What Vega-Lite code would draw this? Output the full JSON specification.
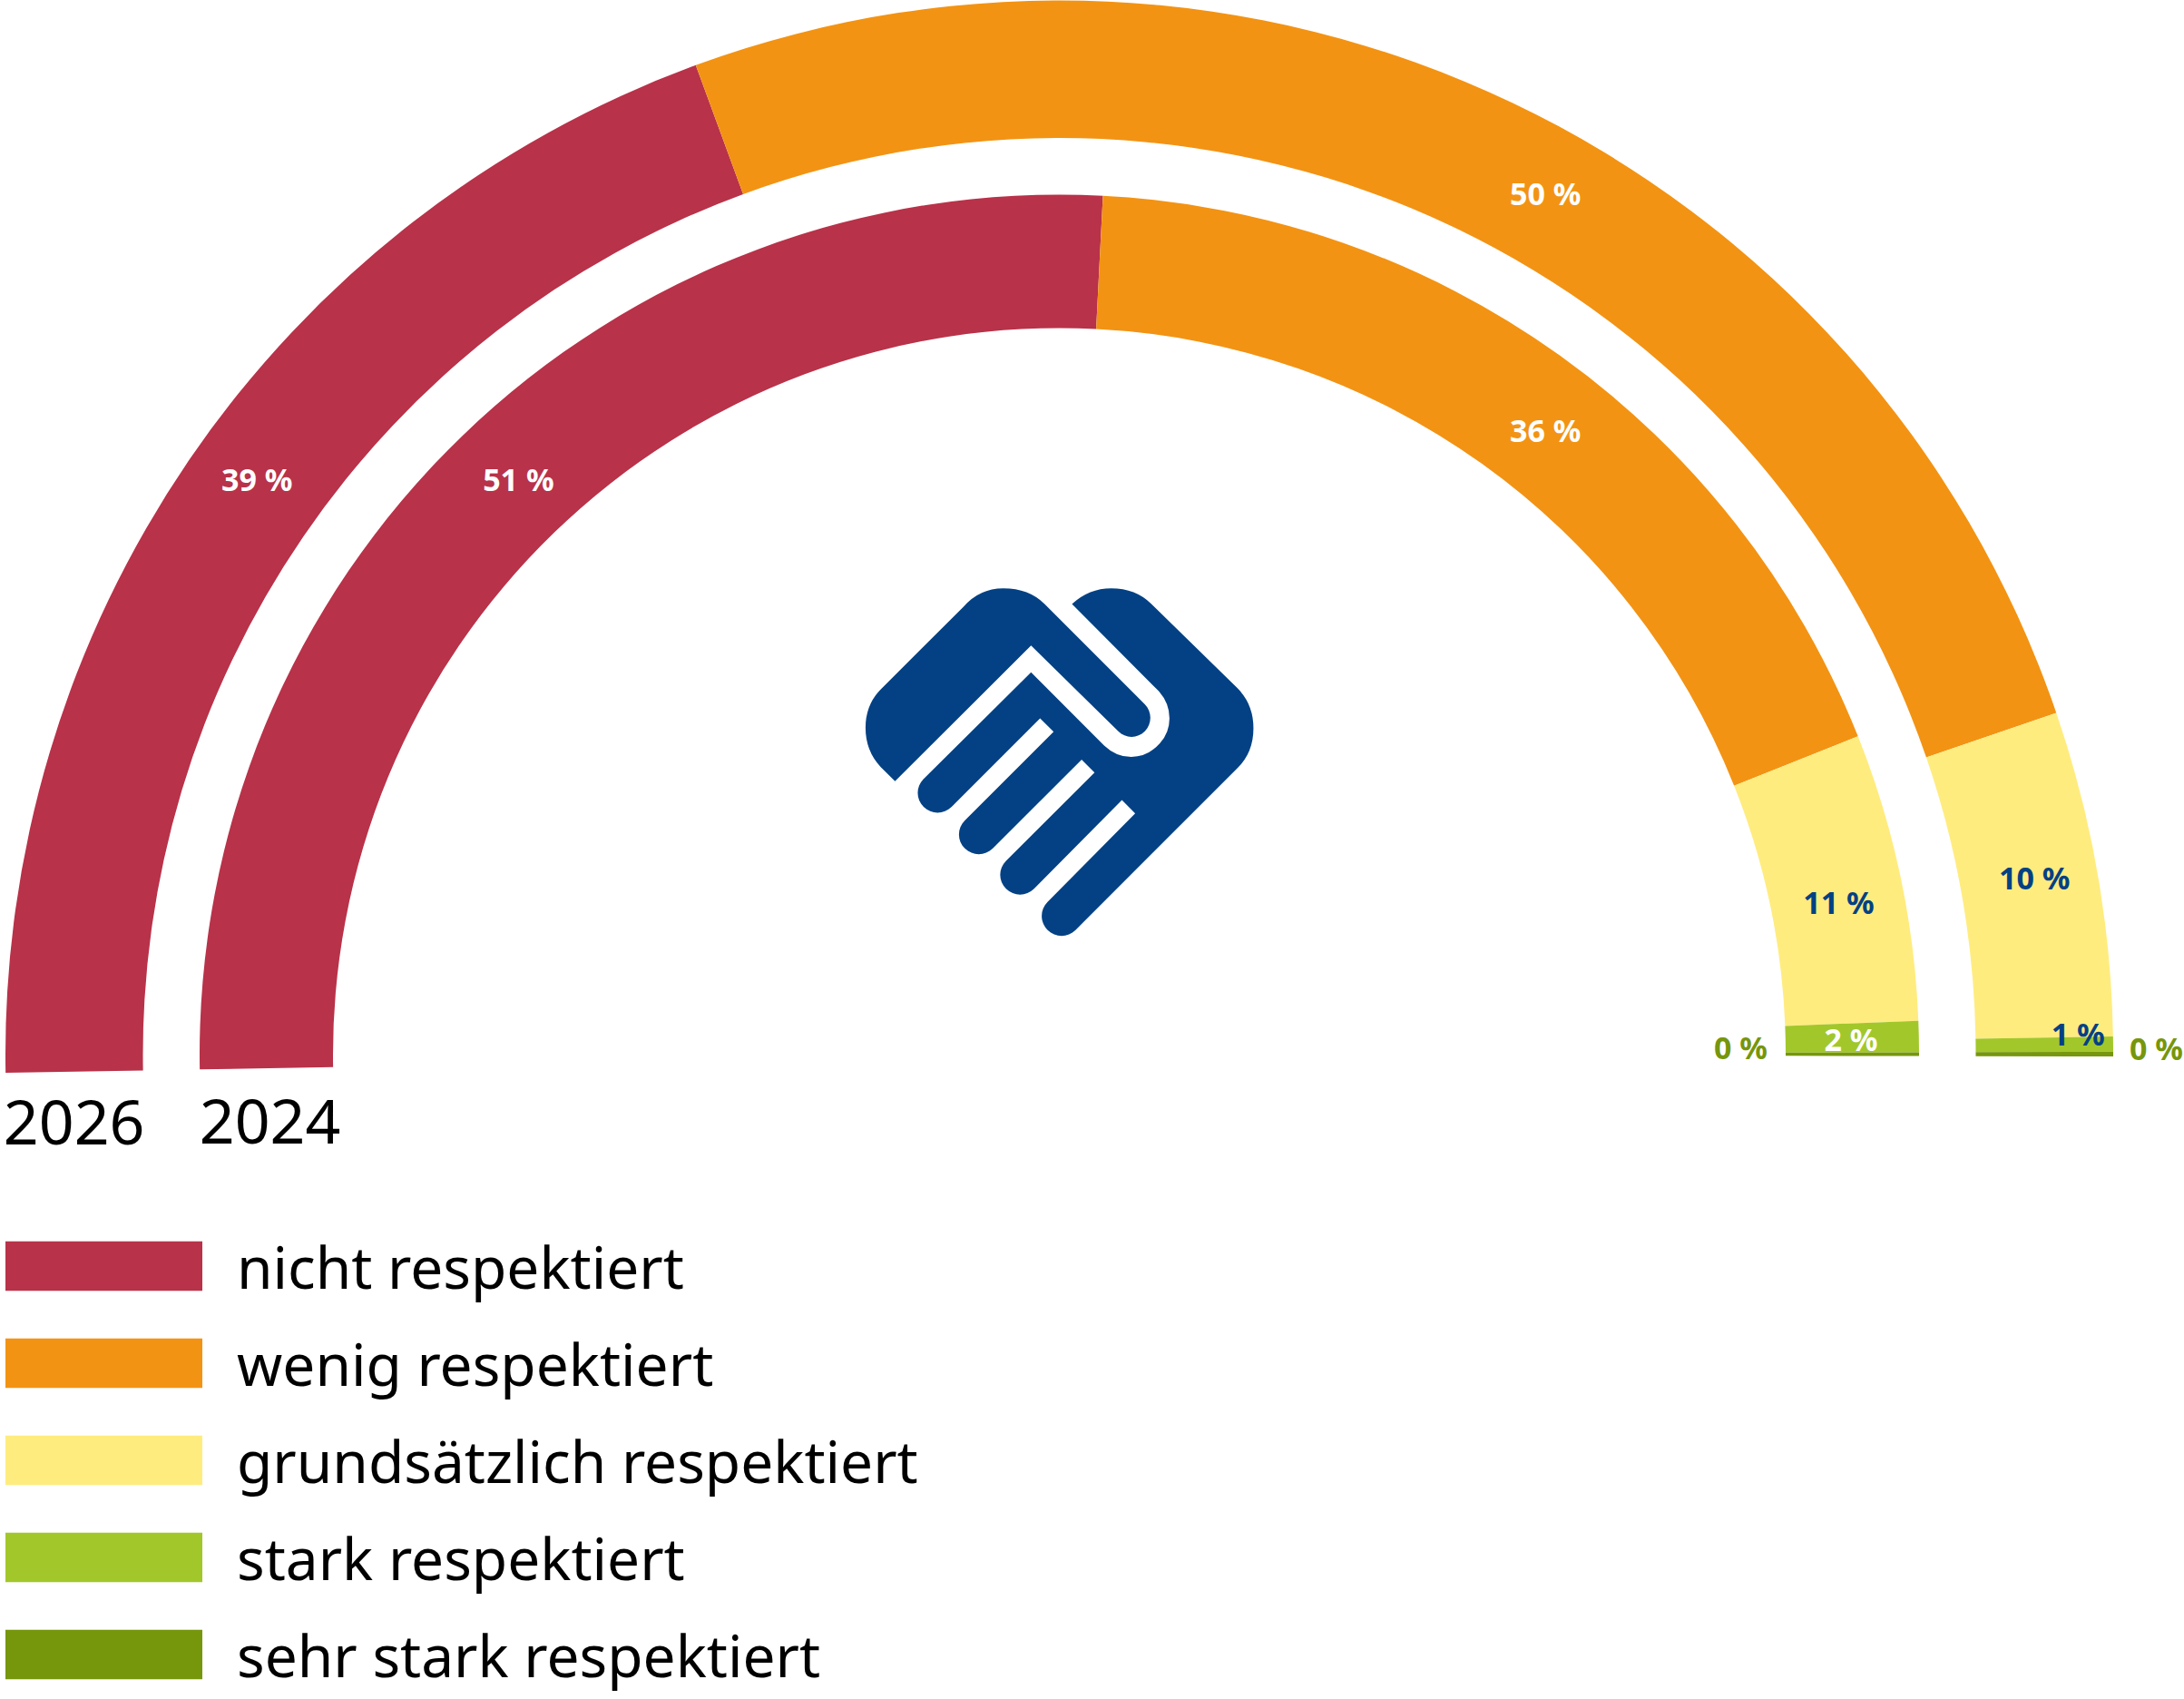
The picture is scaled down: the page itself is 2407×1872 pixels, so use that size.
{
"$schema":"https://vega.github.io/schema/vega-lite/v6.json",
"width":2407,"height":1872,"autosize":"none","padding":0,
"background":"white",
"config":{"view":{"stroke":null}},
"data":{"values":[
{"year":"2026","category":"nicht respektiert","value":39.1,"label":"39 %"},
{"year":"2026","category":"wenig respektiert","value":50.4,"label":"50 %"},
{"year":"2026","category":"grundsätzlich respektiert","value":9.9,"label":"10 %"},
{"year":"2026","category":"stark respektiert","value":0.46,"label":"1 %"},
{"year":"2026","category":"sehr stark respektiert","value":0.14,"label":"0 %"},
{"year":"2024","category":"nicht respektiert","value":51.85,"label":"51 %"},
{"year":"2024","category":"wenig respektiert","value":36.1,"label":"36 %"},
{"year":"2024","category":"grundsätzlich respektiert","value":10.75,"label":"11 %"},
{"year":"2024","category":"stark respektiert","value":1.16,"label":"2 %"},
{"year":"2024","category":"sehr stark respektiert","value":0.14,"label":"0 %"}
]},
"transform":[{"stack":"value","groupby":["year"],"as":["v0","v1"]}],
"encoding":{
"x":{"datum":0,"type":"quantitative","scale":{"domain":[-1167.5,1239.5]},"axis":null},
"y":{"datum":0,"type":"quantitative","scale":{"domain":[-710,1162]},"axis":null},
"theta":{"field":"v0","type":"quantitative","stack":null,"scale":{"domain":[0,100],"range":[-1.588,1.5725]}}
},
"layer":[
{"transform":[{"filter":"datum.year == '2026'"}],"mark":{"type":"arc","radius":1161.5,"radius2":1010},
"encoding":{"theta2":{"field":"v1"},"color":{"field":"category","type":"nominal","scale":{"domain":["nicht respektiert","wenig respektiert","grundsätzlich respektiert","stark respektiert","sehr stark respektiert"],"range":["#B83249","#F39313","#FFEC7F","#A2C72B","#76960C"]},
"legend":{"orient":"none","legendX":-21,"legendY":1369,"title":null,"symbolType":"M-1,-6.65L42.4,-6.65L42.4,4.25L-1,4.25Z","symbolSize":100,"symbolStrokeWidth":0,"symbolOpacity":1,"labelFont":"Noto Sans","labelFontSize":64,"labelColor":"#000000","labelOffset":218,"labelLimit":1200,"rowPadding":41,"labelBaseline":"middle"}}}},
{"transform":[{"filter":"datum.year == '2024'"}],"mark":{"type":"arc","radius":947.5,"radius2":800.5},
"encoding":{"theta2":{"field":"v1"},"color":{"field":"category","type":"nominal"}}},
{"transform":[{"filter":"datum.category == 'nicht respektiert' && datum.year == '2026'"}],"mark":{"type":"text","radius":1086,"dy":80,"align":"center","baseline":"alphabetic","font":"Noto Sans","fontSize":68,"color":"#000000"},"encoding":{"text":{"field":"year"}}},
{"transform":[{"filter":"datum.category == 'nicht respektiert' && datum.year == '2024'"}],"mark":{"type":"text","radius":870,"dy":83,"align":"center","baseline":"alphabetic","font":"Noto Sans","fontSize":68,"color":"#000000"},"encoding":{"text":{"field":"year"}}},
{"transform":[{"filter":"datum.year == '2026' && datum.category == 'nicht respektiert'"}],"mark":{"type":"text","radius":1087,"thetaOffset":0.638,"dy":1,"font":"Noto Sans","fontWeight":"bold","fontSize":34,"color":"#FFFFFF","baseline":"middle","align":"center"},"encoding":{"text":{"field":"label"}}},
{"transform":[{"filter":"datum.year == '2026' && datum.category == 'wenig respektiert'"}],"mark":{"type":"text","radius":1090,"thetaOffset":0.866,"dy":3,"font":"Noto Sans","fontWeight":"bold","fontSize":34,"color":"#FFFFFF","baseline":"middle","align":"center"},"encoding":{"text":{"field":"label"}}},
{"transform":[{"filter":"datum.year == '2026' && datum.category == 'grundsätzlich respektiert'"}],"mark":{"type":"text","radius":1092,"thetaOffset":0.152,"dy":2,"font":"Noto Sans","fontWeight":"bold","fontSize":34,"color":"#034184","baseline":"middle","align":"center"},"encoding":{"text":{"field":"label"}}},
{"transform":[{"filter":"datum.year == '2026' && datum.category == 'stark respektiert'"}],"mark":{"type":"text","radius":1123,"thetaOffset":-0.002,"dy":2,"font":"Noto Sans","fontWeight":"bold","fontSize":34,"color":"#034184","baseline":"middle","align":"center"},"encoding":{"text":{"field":"label"}}},
{"transform":[{"filter":"datum.year == '2026' && datum.category == 'sehr stark respektiert'"}],"mark":{"type":"text","radius":1209,"thetaOffset":-0.002,"dy":2,"font":"Noto Sans","fontWeight":"bold","fontSize":34,"color":"#76960C","baseline":"middle","align":"center"},"encoding":{"text":{"field":"label"}}},
{"transform":[{"filter":"datum.year == '2024' && datum.category == 'nicht respektiert'"}],"mark":{"type":"text","radius":869,"thetaOffset":0.832,"dy":1,"font":"Noto Sans","fontWeight":"bold","fontSize":34,"color":"#FFFFFF","baseline":"middle","align":"center"},"encoding":{"text":{"field":"label"}}},
{"transform":[{"filter":"datum.year == '2024' && datum.category == 'wenig respektiert'"}],"mark":{"type":"text","radius":872,"thetaOffset":0.611,"dy":3,"font":"Noto Sans","fontWeight":"bold","fontSize":34,"color":"#FFFFFF","baseline":"middle","align":"center"},"encoding":{"text":{"field":"label"}}},
{"transform":[{"filter":"datum.year == '2024' && datum.category == 'grundsätzlich respektiert'"}],"mark":{"type":"text","radius":875,"thetaOffset":0.187,"dy":2,"font":"Noto Sans","fontWeight":"bold","fontSize":34,"color":"#034184","baseline":"middle","align":"center"},"encoding":{"text":{"field":"label"}}},
{"transform":[{"filter":"datum.year == '2024' && datum.category == 'stark respektiert'"}],"mark":{"type":"text","radius":872.6,"thetaOffset":0.021,"dy":2,"font":"Noto Sans","fontWeight":"bold","fontSize":34,"color":"#FFFFFF","baseline":"middle","align":"center"},"encoding":{"text":{"field":"label"}}},
{"transform":[{"filter":"datum.year == '2024' && datum.category == 'sehr stark respektiert'"}],"mark":{"type":"text","radius":751,"thetaOffset":-0.006,"dy":2,"font":"Noto Sans","fontWeight":"bold","fontSize":34,"color":"#76960C","baseline":"middle","align":"center"},"encoding":{"text":{"field":"label"}}},
{"transform":[{"filter":"datum.year == '2026' && datum.category == 'nicht respektiert'"}],
"mark":{"type":"point","filled":true,"size":0.44,"opacity":1,"strokeWidth":0,"color":"#034184",
"shape":"M-546,-908L-594,-956Q-644,-1009,-644,-1086Q-644,-1164,-591,-1216L-319,-1487Q-266,-1549,-186,-1549Q-101,-1549,-49,-1497L284,-1164c24.6,24.6,24.6,65.4,0,90c-24.6,24.6,-63.4,24.6,-88,0L-94,-1359ZM42,-1497Q99,-1549,172,-1549Q254,-1549,306,-1497L592,-1217Q645,-1164,645,-1084Q645,-1004,592,-952L54,-414c-26,26,-67,26,-93,0c-26,-26,-26,-67,0,-93L252,-801L208,-846L-84,-551c-26,26,-67,26,-93,0c-26,-26,-26,-67,0,-93L117,-937L74,-980L-221,-685c-26,26,-67,26,-93,0c-26,-26,-26,-67,0,-93L-19,-1073L-64,-1117L-358,-823c-26,26,-67,26,-93,0c-26,-26,-26,-67,0,-93L-94,-1270L149,-1027Q189,-989,239,-989Q294,-989,334,-1034Q366,-1069,366,-1117Q366,-1169,329,-1209Z"},
"encoding":{"theta":null}}
]
}
